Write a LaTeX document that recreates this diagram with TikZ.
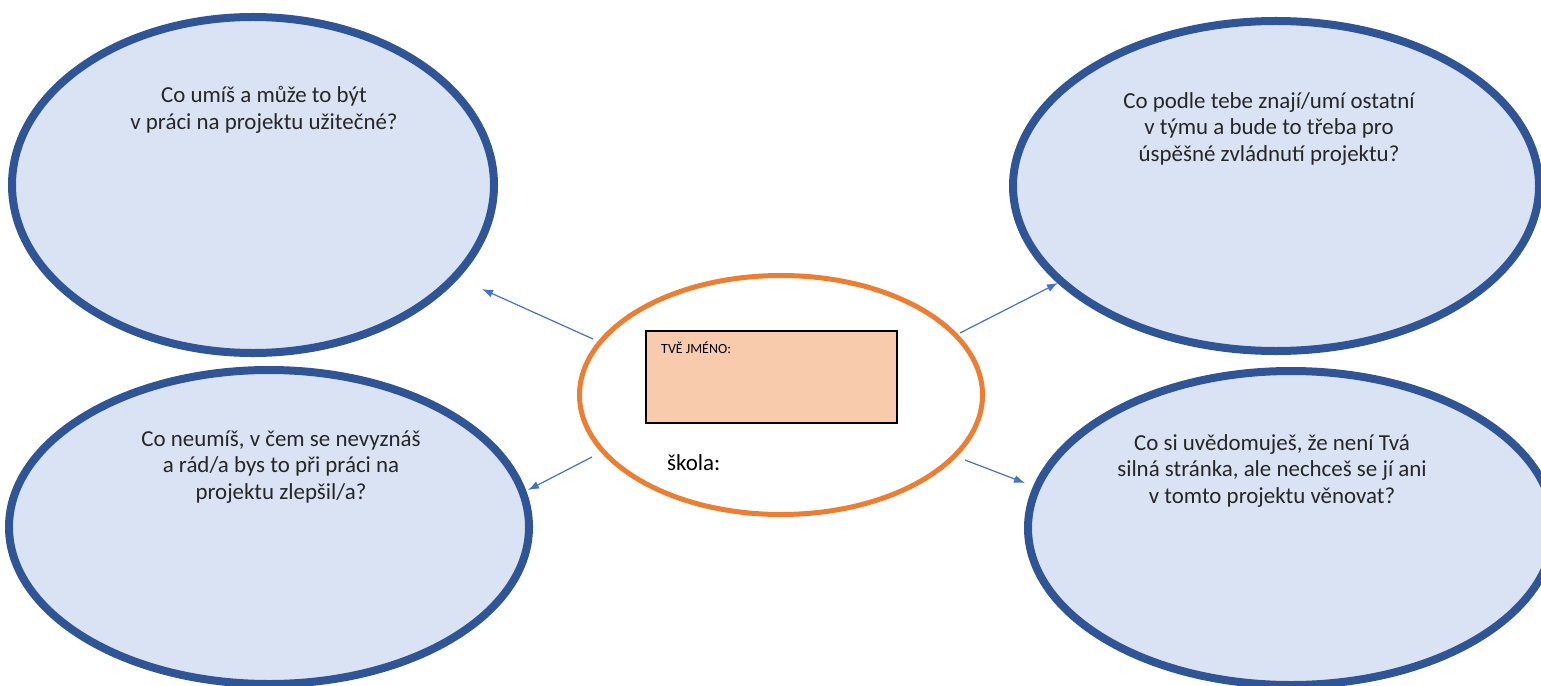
\documentclass[tikz,border=0pt]{standalone}
\usepackage{fontspec}
\setmainfont{Carlito}
\usetikzlibrary{shapes.geometric,arrows.meta}
\definecolor{bubblefill}{HTML}{DAE3F3}
\definecolor{bubbleline}{HTML}{2F5597}
\definecolor{hubline}{HTML}{ED7D31}
\definecolor{namefill}{HTML}{F8CBAD}
\definecolor{arrowcol}{HTML}{4472C4}
\tikzset{
  bubble/.style={ellipse, draw=bubbleline, fill=bubblefill, line width=8bp, inner sep=0pt},
  hub/.style={ellipse, draw=hubline, fill=white, line width=5bp, inner sep=0pt},
  qtext/.style={align=center, font=\fontsize{23}{26.5}\selectfont, text=black!85, inner sep=0pt},
  conn/.style={draw=arrowcol, line width=1.2bp, -{Latex[length=11bp,width=8bp]}}
}
\begin{document}
\begin{tikzpicture}[x=1bp,y=-1bp]
\useasboundingbox (0,0) rectangle (1541,686);
\clip (0,0) rectangle (1541,686);
% outer bubbles
\node[bubble, minimum width=482bp, minimum height=336bp] (tl) at (253,185) {};
\node[bubble, minimum width=526bp, minimum height=330bp] (tr) at (1276,186) {};
\node[bubble, minimum width=520bp, minimum height=314bp] (bl) at (269,527) {};
\node[bubble, minimum width=526bp, minimum height=314bp] (br) at (1291,528) {};
% hub
\node[hub, minimum width=403bp, minimum height=239bp] (c) at (781,395) {};
\node[draw=black, line width=1.3bp, fill=namefill, minimum width=251bp, minimum height=92bp, inner sep=0pt] (name) at (771.5,377) {};
\node[anchor=west, inner sep=0pt, font=\fontsize{14}{16}\selectfont] (namelbl) at (661,348) {TVĚ JMÉNO:};
\node[anchor=west, inner sep=0pt, font=\fontsize{23}{26}\selectfont] (skola) at (667,463) {škola:};
% texts
\node[qtext] (ttl) at (264,110) {Co umíš a může to být\\v práci na projektu užitečné?};
\node[qtext] (ttr) at (1269,129) {Co podle tebe znají/umí ostatní\\v týmu a bude to třeba pro\\úspěšné zvládnutí projektu?};
\node[qtext] (tbl) at (281,467) {Co neumíš, v čem se nevyznáš\\a rád/a bys to při práci na\\projektu zlepšil/a?};
\node[qtext] (tbr) at (1272,471) {Co si uvědomuješ, že není Tvá\\silná stránka, ale nechceš se jí ani\\v tomto projektu věnovat?};
% connectors
\coordinate (s1) at (593,339); \coordinate (e1) at (482,289);
\coordinate (s2) at (592,457); \coordinate (e2) at (528,490);
\coordinate (s3) at (960,333); \coordinate (e3) at (1058,283);
\coordinate (s4) at (965,460); \coordinate (e4) at (1025,483);
\draw[conn] (s1) -- (e1);
\draw[conn] (s2) -- (e2);
\draw[conn] (s3) -- (e3);
\draw[conn] (s4) -- (e4);
\end{tikzpicture}
\end{document}
